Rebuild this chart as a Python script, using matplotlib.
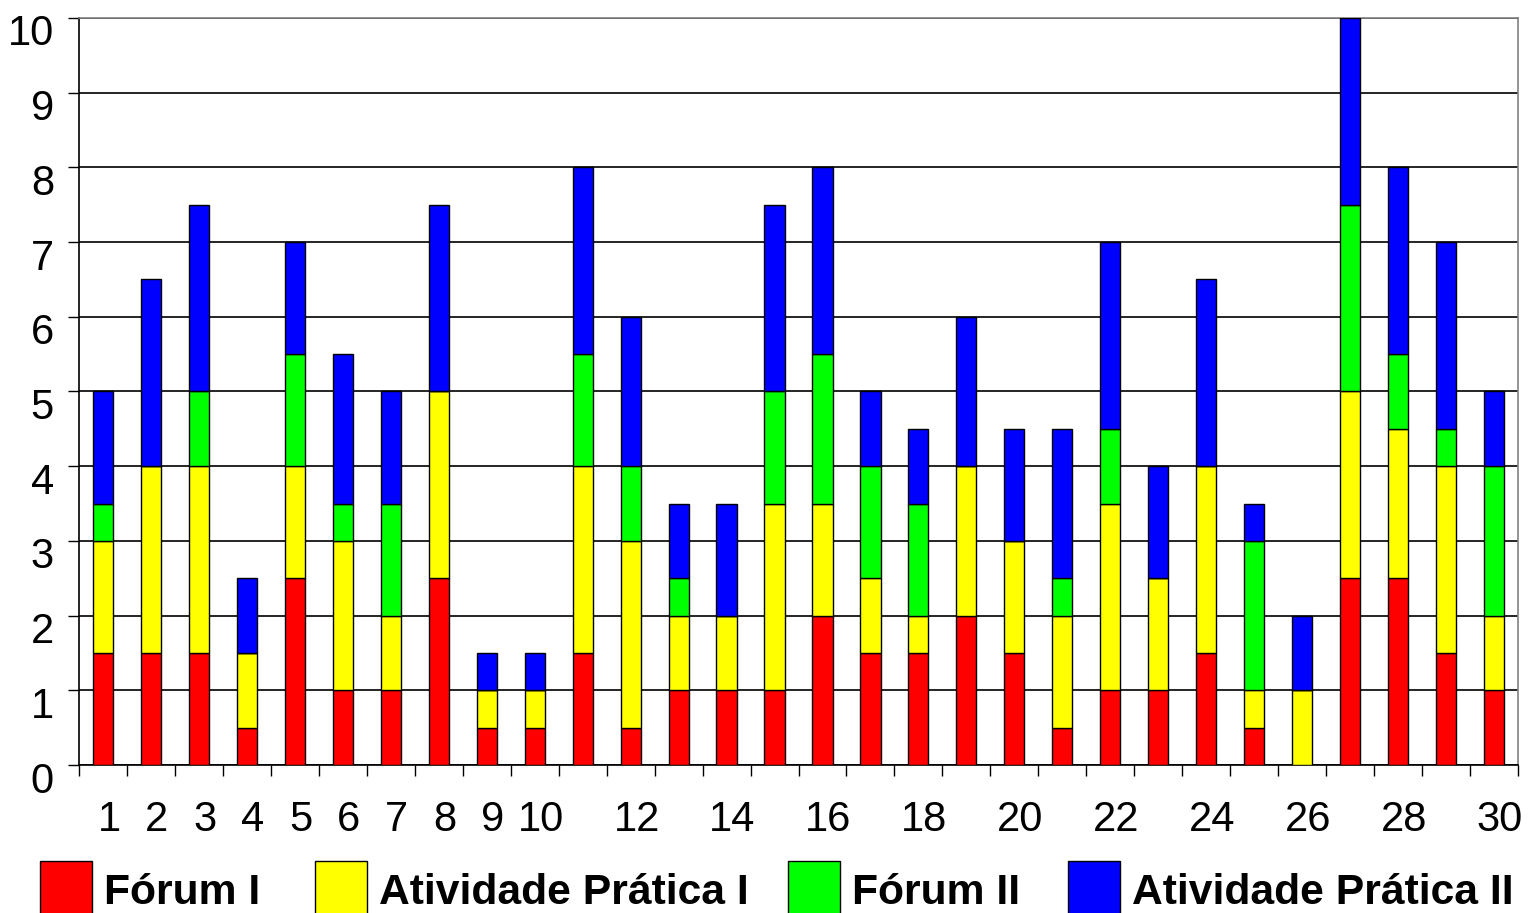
import numpy as np
import matplotlib.pyplot as plt
import matplotlib.transforms as mtrans
from matplotlib.patches import Patch

plt.rcParams['font.family'] = ['Liberation Sans', 'DejaVu Sans']

alunos = np.arange(1, 31)
forum1 = [1.5, 1.5, 1.5, 0.5, 2.5, 1, 1, 2.5, 0.5, 0.5,
          1.5, 0.5, 1, 1, 1, 2, 1.5, 1.5, 2, 1.5,
          0.5, 1, 1, 1.5, 0.5, 0, 2.5, 2.5, 1.5, 1]
ativ1 = [1.5, 2.5, 2.5, 1, 1.5, 2, 1, 2.5, 0.5, 0.5,
         2.5, 2.5, 1, 1, 2.5, 1.5, 1, 0.5, 2, 1.5,
         1.5, 2.5, 1.5, 2.5, 0.5, 1, 2.5, 2, 2.5, 1]
forum2 = [0.5, 0, 1, 0, 1.5, 0.5, 1.5, 0, 0, 0,
          1.5, 1, 0.5, 0, 1.5, 2, 1.5, 1.5, 0, 0,
          0.5, 1, 0, 0, 2, 0, 2.5, 1, 0.5, 2]
ativ2 = [1.5, 2.5, 2.5, 1, 1.5, 2, 1.5, 2.5, 0.5, 0.5,
         2.5, 2, 1, 1.5, 2.5, 2.5, 1, 1, 2, 1.5,
         2, 2.5, 1.5, 2.5, 0.5, 1, 2.5, 2.5, 2.5, 1]

series = [forum1, ativ1, forum2, ativ2]
nomes = ['Fórum I', 'Atividade Prática I', 'Fórum II', 'Atividade Prática II']
cores = ['#FF0000', '#FFFF00', '#00FF00', '#0000FF']
xlabels = [str(i) if (i <= 10 or i % 2 == 0) else '' for i in alunos]

W, H = 1528, 913
fig = plt.figure(figsize=(W/100, H/100), dpi=100)
ax = fig.add_axes([79/W, 1 - 765/H, (1518-79)/W, (765-18)/H])

base = np.zeros(len(alunos))
for vals, cor in zip(series, cores):
    vals = np.array(vals)
    ax.bar(alunos, vals, width=0.42, bottom=base, color=cor,
           edgecolor='black', linewidth=1, zorder=3)
    base = base + vals

ax.set_xlim(0.5, 30.5)
ax.set_ylim(0, 10)
ax.set_yticks(range(0, 11))
ax.yaxis.grid(True, color='black', linewidth=1.2, zorder=0)
ax.tick_params(axis='y', labelsize=30, length=8, width=1, pad=10, direction='out')

ax.set_xticks(np.arange(0.5, 31, 1))
ax.set_xticklabels([])
ax.set_xticks(alunos, minor=True)
ax.set_xticklabels(xlabels, minor=True)
ax.tick_params(axis='x', which='major', length=8, width=1, direction='out')
ax.tick_params(axis='x', which='minor', length=0, labelsize=30, pad=25)

# labels in the original sit a bit lower / to the right of their ticks
desl_y = mtrans.ScaledTranslation(0, -12/100, fig.dpi_scale_trans)
for lab in ax.get_yticklabels():
    lab.set_transform(lab.get_transform() + desl_y)
desl_x = mtrans.ScaledTranslation(6/100, 0, fig.dpi_scale_trans)
for lab in ax.get_xticklabels(minor=True):
    lab.set_transform(lab.get_transform() + desl_x)

for s in ['top', 'right']:
    ax.spines[s].set_color('#808080')
    ax.spines[s].set_linewidth(1.2)
for s in ['left', 'bottom']:
    ax.spines[s].set_color('black')
    ax.spines[s].set_linewidth(1.2)

# legend entries, one per column position as in the original
pos_leg = [40, 315, 788, 1068]
desl_leg = mtrans.ScaledTranslation(0, -3/100, fig.dpi_scale_trans)
for nome, cor, px in zip(nomes, cores, pos_leg):
    h = Patch(facecolor=cor, edgecolor='black', linewidth=1)
    leg = fig.legend([h], [nome], loc='upper left', bbox_to_anchor=(px/W, 1 - 861/H),
                     frameon=False, borderpad=0, borderaxespad=0,
                     handlelength=1.23, handleheight=1.52, handletextpad=0.26,
                     prop={'weight': 'bold', 'size': 30.7})
    for t in leg.get_texts():
        t.set_transform(t.get_transform() + desl_leg)

fig.savefig('out.png', dpi=100)
